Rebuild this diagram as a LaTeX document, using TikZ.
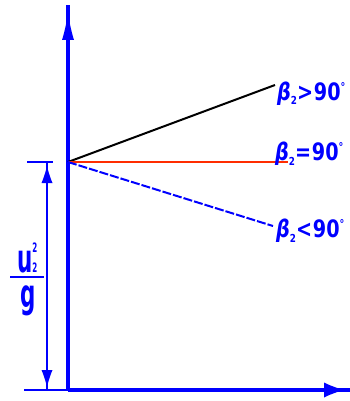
\documentclass[tikz,border=0pt]{standalone}
\usepackage{fontspec}
\setmainfont{DejaVu Sans}
\usetikzlibrary{arrows.meta}
\definecolor{ablue}{RGB}{0,0,255}
\definecolor{ared}{RGB}{255,45,0}
\newcommand{\labtxt}[1]{\scalebox{0.8}[1]{\fontsize{24}{28}\selectfont\bfseries{\itshape β}\raisebox{-5pt}{\fontsize{11}{11}\selectfont 2}#1\hspace{1pt}90\raisebox{9pt}{\fontsize{12}{12}\selectfont °}}}
\begin{document}
\begin{tikzpicture}[x=1pt,y=-1pt,
  axisline/.style={ablue,line width=3.5pt},
  thinline/.style={ablue,line width=1.6pt},
  lab/.style={ablue,anchor=base west,inner sep=0pt}]
\useasboundingbox (0,0) rectangle (350,401);
% coordinates
\coordinate (O) at (68,390);
\coordinate (Ytop) at (68,5);
\coordinate (Xend) at (350,390);
\coordinate (P) at (68,162);
\coordinate (B1) at (275,85);
\coordinate (B2) at (288,162);
\coordinate (B3) at (273,226);
% axes
\draw[axisline] (O) -- (Ytop);
\draw[axisline] (O) -- (Xend);
\coordinate (ya) at (68,42);
\coordinate (yb) at (68,14);
\draw[ablue,line width=0pt,-{Latex[length=26pt,width=12pt]}] (ya) -- (yb);
\coordinate (xa) at (322,390);
\coordinate (xb) at (344,390);
\draw[ablue,line width=0pt,-{Latex[length=20pt,width=15pt]}] (xa) -- (xb);
% lines
\draw[black,line width=2pt] (P) -- (B1);
\draw[ared,line width=1.6pt] (P) -- (B2);
\draw[ablue,line width=2pt,dash pattern=on 9pt off 2pt] (P) -- (B3);
% labels
\node[lab] (L1) at (277,100) {\labtxt{>}};
\node[lab] (L2) at (275,160) {\labtxt{=}};
\node[lab] (L3) at (276,237) {\labtxt{<}};
% dimension
\coordinate (E1a) at (27,162);
\coordinate (E1b) at (53,162);
\coordinate (E2a) at (24,390);
\draw[thinline] (E1a) -- (E1b);
\draw[thinline] (E2a) -- (O);
\coordinate (D1) at (47,162);
\coordinate (D2) at (47,390);
\draw[thinline] (D1) -- (D2);
\coordinate (d1a) at (47,184);
\coordinate (d1b) at (47,166);
\coordinate (d2a) at (47,370);
\coordinate (d2b) at (47,387);
\draw[ablue,line width=0pt,-{Latex[length=17pt,width=11pt]}] (d1a) -- (d1b);
\draw[ablue,line width=0pt,-{Latex[length=17pt,width=11pt]}] (d2a) -- (d2b);
% fraction
\node[ablue,anchor=base west,inner sep=0pt] (num) at (17,272) {\scalebox{0.55}[1]{\fontsize{39}{40}\selectfont\bfseries u\rlap{\raisebox{20pt}{\fontsize{13}{13}\selectfont 2}}\raisebox{0pt}{\fontsize{13}{13}\selectfont 2}}};
\coordinate (F1) at (10,277);
\coordinate (F2) at (44,277);
\draw[ablue,line width=2pt] (F1) -- (F2);
\node[ablue,anchor=base,inner sep=0pt] (den) at (28,307) {\scalebox{0.55}[1]{\fontsize{39}{40}\selectfont\bfseries g}};
\end{tikzpicture}
\end{document}
